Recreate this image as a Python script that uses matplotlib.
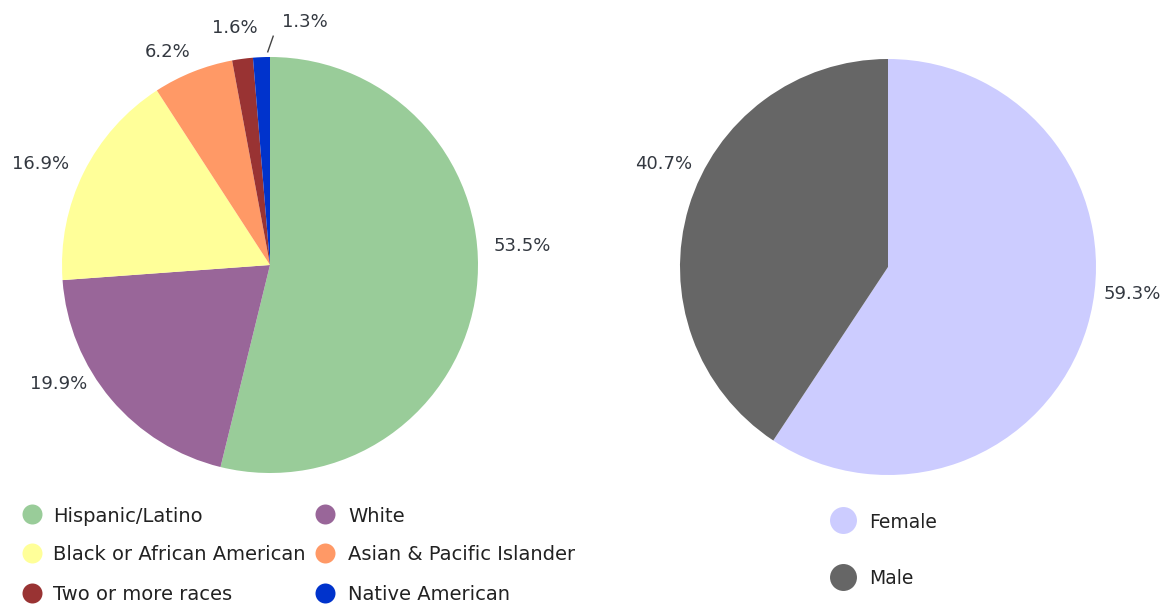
import numpy as np
import matplotlib
matplotlib.use("Agg")
import matplotlib.pyplot as plt
from matplotlib.lines import Line2D

# ---- data ----
race_labels = ["Hispanic/Latino", "White", "Black or African American",
               "Asian & Pacific Islander", "Two or more races", "Native American"]
race_values = [53.5, 19.9, 16.9, 6.2, 1.6, 1.3]
race_colors = ["#99CC99", "#996699", "#FFFF99", "#FF9966", "#993333", "#0033CC"]

gender_labels = ["Female", "Male"]
gender_values = [59.3, 40.7]
gender_colors = ["#CCCCFF", "#666666"]

W, H = 1172, 608
fig = plt.figure(figsize=(W / 100, H / 100), dpi=100)
fig.patch.set_facecolor("white")

def px(x, y):
    return x / W, 1 - y / H

def pie_axes(cx, cy, r):
    ax = fig.add_axes([(cx - r) / W, (H - cy - r) / H, 2 * r / W, 2 * r / H])
    ax.set_xlim(-1, 1)
    ax.set_ylim(-1, 1)
    ax.axis("off")
    return ax

LABEL_COLOR = "#333840"

def draw_pie(ax, values, colors, nudges, radii):
    wedges, _ = ax.pie(values, colors=colors, startangle=90, counterclock=False,
                       radius=1, wedgeprops=dict(linewidth=0))
    ax.set_xlim(-1, 1)
    ax.set_ylim(-1, 1)
    for w, v, dn, rr in zip(wedges, values, nudges, radii):
        mid = np.deg2rad((w.theta1 + w.theta2) / 2 + dn)
        ax.text(rr * np.cos(mid), rr * np.sin(mid), f"{v:.1f}%",
                ha="center", va="center_baseline", fontsize=13,
                color=LABEL_COLOR, family="DejaVu Sans", clip_on=False)
    return wedges

# left pie
ax1 = pie_axes(270, 265, 208)
w1 = draw_pie(ax1, race_values, race_colors,
              nudges=[11.7, -11.3, 2.3, 3.7, 0.7, -10.4],
              radii=[1.216, 1.163, 1.21, 1.145, 1.163, 1.19])
# leader line for the smallest slice
tmin = np.deg2rad(min(w1[-1].theta1, w1[-1].theta2) + 0.6)
tend = np.deg2rad(min(w1[-1].theta1, w1[-1].theta2) - 0.8)
ax1.plot([1.025 * np.cos(tmin), 1.10 * np.cos(tend)],
         [1.025 * np.sin(tmin), 1.10 * np.sin(tend)],
         color="#444444", lw=1, clip_on=False)

# right pie
ax2 = pie_axes(888, 267, 208)
draw_pie(ax2, gender_values, gender_colors,
         nudges=[11.0, -8.3], radii=[1.18, 1.19])

# ---- legends ----
def legend_item(x, y, color, label, ms, fs, tx):
    fig.add_artist(Line2D([x / W], [1 - y / H], marker="o", linestyle="none",
                          markersize=ms, markerfacecolor=color,
                          markeredgewidth=0, transform=fig.transFigure))
    fig.text(*px(tx, y), label, ha="left", va="center_baseline",
             fontsize=fs, color="#222222", family="DejaVu Sans")

col_marker = [31.5, 325]
col_text = [53, 348]
rows = [514, 553, 593]
for i, (lab, col) in enumerate(zip(race_labels, race_colors)):
    r, c = divmod(i, 2)
    legend_item(col_marker[c], rows[r], col, lab, 14.4, 14, col_text[c])

for i, (lab, col) in enumerate(zip(gender_labels, gender_colors)):
    legend_item(843, [520, 577][i], col, lab, 19.4, 13.5, 869)

fig.savefig("out.png", dpi=100, facecolor="white")
